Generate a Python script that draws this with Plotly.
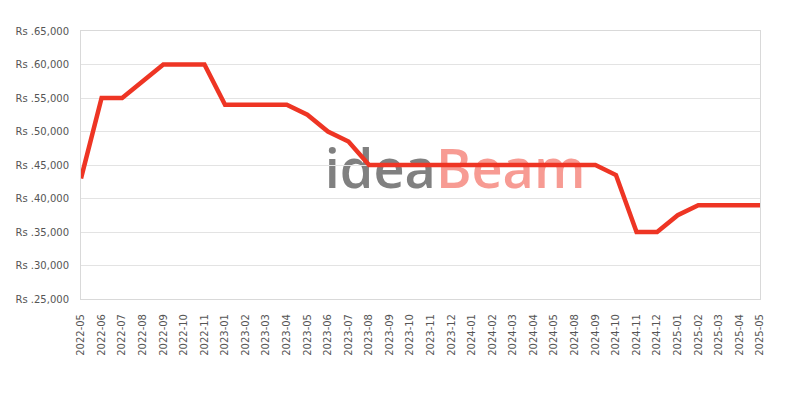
import plotly.graph_objects as go

months = ["2022-05", "2022-06", "2022-07", "2022-08", "2022-09", "2022-10", "2022-11",
          "2023-01", "2023-02", "2023-03", "2023-04", "2023-05", "2023-06", "2023-07",
          "2023-08", "2023-09", "2023-10", "2023-11", "2023-12", "2024-01", "2024-02",
          "2024-03", "2024-04", "2024-05", "2024-08", "2024-09", "2024-10", "2024-11",
          "2024-12", "2025-01", "2025-02", "2025-03", "2025-04", "2025-05"]
prices = [43000, 55000, 55000, 57500, 60000, 60000, 60000,
          54000, 54000, 54000, 54000, 52500, 50000, 48500,
          45000, 45000, 45000, 45000, 45000, 45000, 45000,
          45000, 45000, 45000, 45000, 45000, 43500, 35000,
          35000, 37500, 39000, 39000, 39000, 39000]
y_ticks = [25000, 30000, 35000, 40000, 45000, 50000, 55000, 60000, 65000]
y_tick_labels = ["Rs .{:,}".format(v) for v in y_ticks]

fig = go.Figure()
fig.add_trace(go.Scatter(x=months, y=prices, mode="lines",
                         line=dict(color="#ee3524", width=4.5), hoverinfo="x+y"))

font_family = "DejaVu Sans"
fig.update_layout(
    width=800, height=400,
    margin=dict(l=73, r=48, t=23, b=109),
    paper_bgcolor="white", plot_bgcolor="white",
    showlegend=False,
    font=dict(family=font_family, size=10, color="#555555"),
    xaxis=dict(type="category", range=[0, len(months) - 1], tickangle=-90,
               showgrid=False, showline=True, linecolor="#d9d9d9", linewidth=1,
               mirror=True, ticks="", automargin=False, ticklabelstandoff=10,
               tickfont=dict(size=10, color="#555555")),
    yaxis=dict(range=[25000, 65000], tickvals=y_ticks, ticktext=y_tick_labels,
               showgrid=True, gridcolor="#e3e3e3", gridwidth=1,
               showline=True, linecolor="#d9d9d9", mirror=True, ticks="",
               automargin=False, ticklabelstandoff=9,
               zeroline=False, tickfont=dict(size=10, color="#555555")),
    shapes=[
        dict(type="rect", xref="paper", yref="paper", x0=0.367, x1=0.735, y0=0.384, y1=0.570,
             layer="below", line=dict(width=0), fillcolor="rgba(0,0,0,0)",
             label=dict(text="<span style='color:#808080'>idea</span><span style='color:#f79b93'>Beam</span>",
                        textposition="middle center",
                        font=dict(family="Open Sans", size=54, weight=600, color="#808080"))),
    ],
)

fig.write_html("out.html")
